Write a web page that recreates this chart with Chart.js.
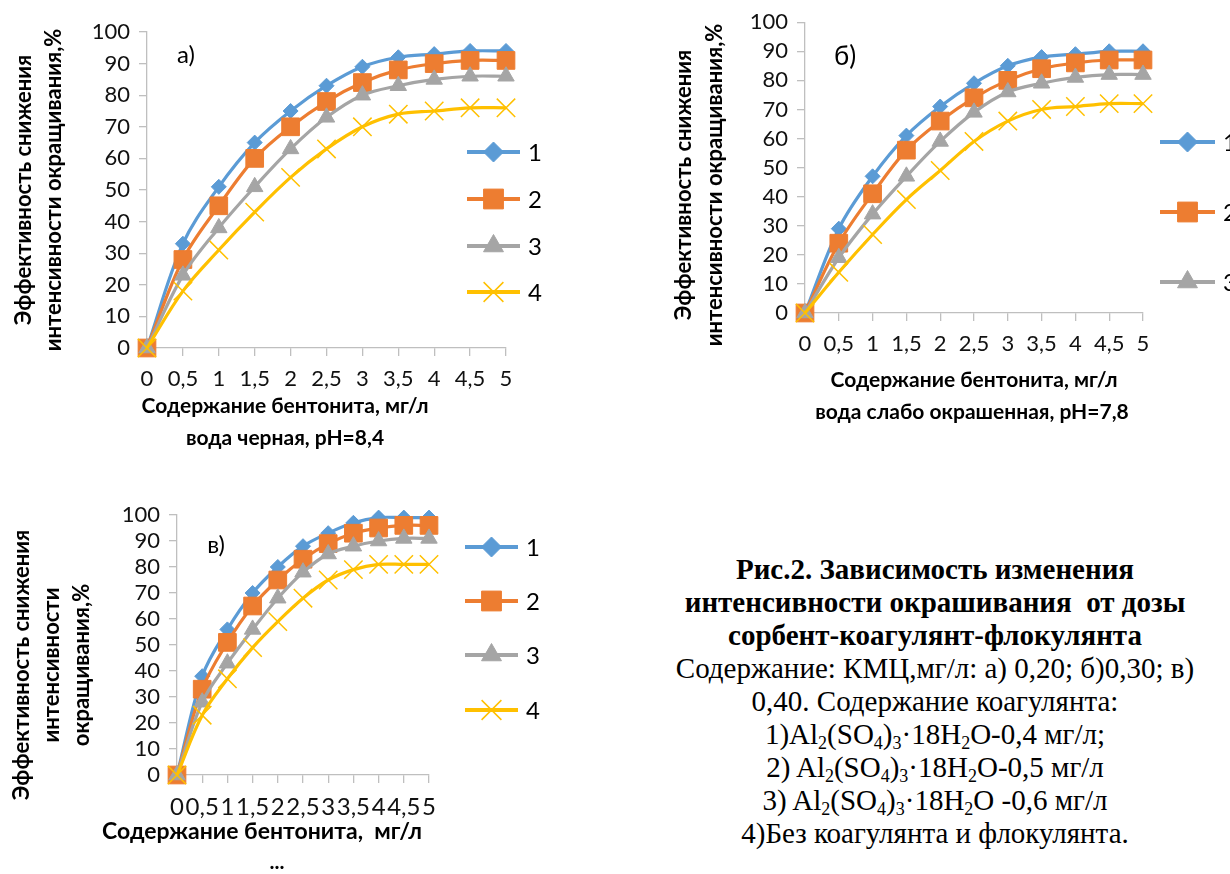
<!DOCTYPE html>
<html lang="ru">
<head>
<meta charset="utf-8">
<script src="https://cdn.jsdelivr.net/npm/chart.js@4.4.0/dist/chart.umd.min.js"></script>
<style>
  body { margin: 0; background: #fff; }
  #page { position: relative; width: 1230px; height: 874px; overflow: hidden; background: #fff; }
  canvas { position: absolute; }
  #caption {
    position: absolute; left: 630px; top: 553px; width: 610px;
    text-align: center; font-family: "Liberation Serif", "Times New Roman", serif;
    font-size: 29px; line-height: 33px; color: #000; white-space: nowrap;
  }
  #caption sub { font-size: 18px; vertical-align: -5px; line-height: 0; }
</style>
</head>
<body>
<div id="page">
  <canvas id="chartA" style="left:0;top:0;width:560px;height:460px" width="560" height="460"></canvas>
  <canvas id="chartB" style="left:640px;top:0;width:590px;height:430px" width="590" height="430"></canvas>
  <canvas id="chartC" style="left:0;top:480px;width:560px;height:394px" width="560" height="394"></canvas>
  <div id="caption">
    <b>Рис.2. Зависимость изменения</b><br>
    <b>интенсивности окрашивания&nbsp; от дозы</b><br>
    <b>сорбент-коагулянт-флокулянта</b><br>
    Содержание: КМЦ,мг/л: а) 0,20; б)0,30; в)<br>
    0,40. Содержание коагулянта:<br>
    1)Al<sub>2</sub>(SO<sub>4</sub>)<sub>3</sub>·18H<sub>2</sub>O-0,4 мг/л;<br>
    2) Al<sub>2</sub>(SO<sub>4</sub>)<sub>3</sub>·18H<sub>2</sub>O-0,5 мг/л<br>
    3) Al<sub>2</sub>(SO<sub>4</sub>)<sub>3</sub>·18H<sub>2</sub>O -0,6 мг/л<br>
    4)Без коагулянта и флокулянта.
  </div>
</div>
<script>
// bentonite dose, mg/l (x axis labels)
const doseLabels = ['0', '0,5', '1', '1,5', '2', '2,5', '3', '3,5', '4', '4,5', '5'];
const seriesNames = ['1', '2', '3', '4'];

// а) black water, pH=8,4
const blackS1 = [0, 33, 51, 65, 75, 83, 89, 92, 93, 94, 94];
const blackS2 = [0, 28, 45, 60, 70, 78, 84, 88, 90, 91, 91];
const blackS3 = [0, 23, 38, 51, 63, 73, 80, 83, 85, 86, 86];
const blackS4 = [0, 18, 31, 43, 54, 63, 70, 74, 75, 76, 76];

// б) weakly coloured water, pH=7,8
const weakS1 = [0, 29, 47, 61, 71, 79, 85, 88, 89, 90, 90];
const weakS2 = [0, 24, 41, 56, 66, 74, 80, 84, 86, 87, 87];
const weakS3 = [0, 19, 34, 47, 59, 69, 76, 79, 81, 82, 82];
const weakS4 = [0, 14, 27, 39, 49, 59, 66, 70, 71, 72, 72];

// в)
const thirdS1 = [0, 38, 56, 70, 80, 88, 93, 97, 99, 99, 99];
const thirdS2 = [0, 33, 51, 65, 75, 83, 89, 93, 95, 96, 96];
const thirdS3 = [0, 28, 43, 56, 68, 78, 85, 88, 90, 91, 91];
const thirdS4 = [0, 23, 37, 49, 59, 68, 75, 79, 81, 81, 81];

const yTicks = { min: 0, max: 100, step: 10 };

const yTitleA = ['Эффективность снижения', 'интенсивности окращивания,%'];
const yTitleC = ['Эффективность снижения', 'интенсивности', 'окращивания,%'];
const xTitle = 'Содержание бентонита, мг/л';
const xTitleC = 'Содержание бентонита,  мг/л';
const subTitleA = 'вода черная, pH=8,4';
const subTitleB = 'вода слабо окрашенная, pH=7,8';
const subTitleC = '...';
const panelNames = ['а)', 'б)', 'в)'];

const SANS = 'Lato, "Open Sans", "Noto Sans", sans-serif';
const axisGray = '#bfbfbf';

// marker look per series: blue diamond, orange square, grey triangle, yellow x
const styles = [
  { color: '#5b9bd5', point: 'rectRot', r: 7.5, lr: 10 },
  { color: '#ed7d31', point: 'rect', r: 12.5, lr: 14 },
  { color: '#a5a5a5', point: 'triangle', r: 9.5, lr: 11.5 },
  { color: '#ffc000', point: 'crossRot', r: 13, lr: 14 }
];

const makeDatasets = (seriesList) => seriesList.map((values, i) => ({
  label: seriesNames[i],
  data: values,
  borderColor: styles[i].color,
  backgroundColor: styles[i].color,
  pointBackgroundColor: styles[i].color,
  pointBorderColor: styles[i].color,
  pointStyle: styles[i].point,
  pointRadius: styles[i].r,
  pointHoverRadius: styles[i].r,
  pointBorderWidth: styles[i].point === 'crossRot' ? 1.5 : 1,
  borderWidth: 3.2,
  tension: 0.35,
  clip: false,
  order: 4 - i
}));

// free text (axis titles, panel letters)
const notesPlugin = {
  id: 'notes',
  afterDraw(chart, args, opts) {
    const ctx = chart.ctx;
    (opts.items || []).forEach(it => {
      const lines = Array.isArray(it.text) ? it.text : [it.text];
      ctx.save();
      ctx.font = it.font;
      ctx.fillStyle = '#000';
      ctx.textAlign = 'center';
      ctx.textBaseline = 'middle';
      ctx.translate(it.x, it.y);
      if (it.rotate) ctx.rotate(it.rotate * Math.PI / 180);
      lines.forEach((line, k) => ctx.fillText(line, 0, k * (it.gap || 0)));
      ctx.restore();
    });
  }
};

// legend drawn at a given place, Excel style (line with marker)
const sideLegend = {
  id: 'sideLegend',
  afterDraw(chart, args, opts) {
    if (!opts.ys) return;
    const ctx = chart.ctx;
    opts.ys.forEach((y, i) => {
      const ds = chart.data.datasets[i];
      const st = styles[i];
      ctx.save();
      ctx.strokeStyle = st.color;
      ctx.lineWidth = 4;
      ctx.beginPath();
      ctx.moveTo(opts.x1, y);
      ctx.lineTo(opts.x2, y);
      ctx.stroke();
      ctx.fillStyle = st.color;
      ctx.lineWidth = st.point === 'crossRot' ? 1.5 : 1;
      Chart.helpers.drawPoint(ctx, { pointStyle: st.point, radius: st.lr, rotation: 0, borderWidth: ctx.lineWidth }, (opts.x1 + opts.x2) / 2, y);
      ctx.fillStyle = '#000';
      ctx.font = '24px ' + SANS;
      ctx.textAlign = 'left';
      ctx.textBaseline = 'middle';
      ctx.fillText(ds.label, opts.x2 + 8, y + 1);
      ctx.restore();
    });
  }
};

// box = where the plot area sits inside the canvas
const createChart = (id, box, seriesList, legendOpts, notes, xFontSize) => {
  const canvas = document.getElementById(id);
  return new Chart(canvas.getContext('2d'), {
    type: 'line',
    data: { labels: doseLabels, datasets: makeDatasets(seriesList) },
    options: {
      responsive: false,
      animation: false,
      events: [],
      layout: { padding: { top: box.top, right: canvas.width - box.right, left: 0, bottom: 0 } },
      plugins: {
        legend: { display: false },
        tooltip: { enabled: false },
        notes: { items: notes },
        sideLegend: legendOpts
      },
      scales: {
        x: {
          offset: false,
          border: { display: true, color: axisGray, width: 1.3 },
          grid: { display: true, drawOnChartArea: false, drawTicks: true, tickLength: 8, color: axisGray, lineWidth: 1.3 },
          ticks: { autoSkip: false, maxRotation: 0, padding: 10, color: '#111', font: { family: SANS, size: xFontSize } },
          afterFit: (scale) => { scale.height = canvas.height - box.bottom; }
        },
        y: {
          min: yTicks.min,
          max: yTicks.max,
          border: { display: true, color: axisGray, width: 1.3 },
          grid: { display: true, drawOnChartArea: false, drawTicks: true, tickLength: 8, color: axisGray, lineWidth: 1.3 },
          ticks: { stepSize: yTicks.step, autoSkip: false, padding: 9, color: '#111', font: { family: SANS, size: 22 } },
          afterFit: (scale) => { scale.width = box.left; }
        }
      }
    },
    plugins: [notesPlugin, sideLegend]
  });
};

const titleFont = 'bold 21px ' + SANS;
const yTitleFont = 'bold 22px ' + SANS;

createChart('chartA', { left: 147, top: 32, right: 506, bottom: 348 },
  [blackS1, blackS2, blackS3, blackS4],
  { x1: 467, x2: 520, ys: [152, 199, 246, 292] },
  [
    { text: yTitleA, x: 24, y: 190, rotate: -90, gap: 30, font: yTitleFont },
    { text: panelNames[0], x: 186, y: 55, font: '24px ' + SANS },
    { text: xTitle, x: 285, y: 406, font: titleFont },
    { text: subTitleA, x: 285, y: 438, font: titleFont }
  ], 22);

createChart('chartB', { left: 165, top: 18, right: 503, bottom: 313 },
  [weakS1, weakS2, weakS3, weakS4],
  { x1: 520, x2: 575, ys: [142, 212, 282] },
  [
    { text: yTitleA, x: 44, y: 185, rotate: -90, gap: 31, font: yTitleFont },
    { text: panelNames[1], x: 205, y: 57, font: '26px ' + SANS },
    { text: xTitle, x: 334, y: 380, font: titleFont },
    { text: subTitleB, x: 332, y: 412, font: titleFont }
  ], 22);

createChart('chartC', { left: 177, top: 35, right: 429, bottom: 295 },
  [thirdS1, thirdS2, thirdS3, thirdS4],
  { x1: 465, x2: 518, ys: [67, 121, 175, 230] },
  [
    { text: yTitleC, x: 22, y: 185, rotate: -90, gap: 30, font: yTitleFont },
    { text: panelNames[2], x: 216, y: 65, font: '24px ' + SANS },
    { text: xTitleC, x: 262, y: 352, font: 'bold 23px ' + SANS },
    { text: subTitleC, x: 277, y: 382, font: titleFont }
  ], 24);
</script>
</body>
</html>
